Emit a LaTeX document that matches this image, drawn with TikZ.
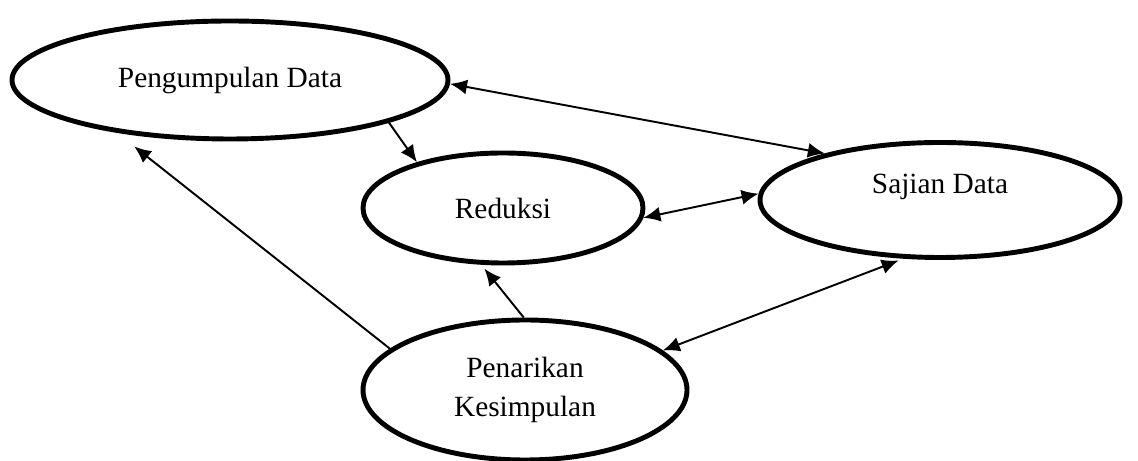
\documentclass[tikz,border=0pt]{standalone}
\usepackage{fontspec}
\setmainfont{Liberation Serif}
\usetikzlibrary{arrows.meta,shapes,calc}

\begin{document}
\begin{tikzpicture}[
        teks/.style={font=\fontsize{16.7}{22.7}\selectfont},
        oval/.style={draw, ellipse, line width=2.8pt, inner sep=0pt, align=center, teks},
        link/.style={line width=1.1pt, -{Latex[length=3.4mm,width=3mm]}},
        both/.style={line width=1.1pt, {Latex[length=3.4mm,width=3mm]}-{Latex[length=3.4mm,width=3mm]}}
    ]
        \useasboundingbox (0,0) rectangle (22.76,9.22);

        %%ovals
        \node[oval, minimum width=8.72cm, minimum height=2.36cm] (kumpul) at (4.6,7.62) {Pengumpulan Data};
        \node[oval, minimum width=5.6cm, minimum height=2.2cm] (reduksi) at (10.06,5.06) {Reduksi};
        \node[oval, minimum width=7.2cm, minimum height=2.3cm,
            label={[teks, yshift=0.26cm]center:Sajian Data}] (sajian) at (18.8,5.22) {};
        \node[oval, minimum width=6.48cm, minimum height=2.8cm] (tarik) at (10.5,1.42) {Penarikan\\Kesimpulan};

        %%arrows
        \draw[link] (kumpul.-15.7) -- (reduksi.152.6);
        \draw[both] (kumpul.-1.8) -- (sajian.158.7);
        \draw[both] (reduksi.-4.9) -- (sajian.178.4);
        \draw[link, shorten >=0.44cm] (tarik.163.9) -- (kumpul.-155.3);
        \draw[link, shorten >=1mm] (tarik.91.6) -- (reduksi.-111.3);
        \draw[both, shorten >=1mm] (tarik.16.3) -- (sajian.-122.4);
\end{tikzpicture}
\end{document}
